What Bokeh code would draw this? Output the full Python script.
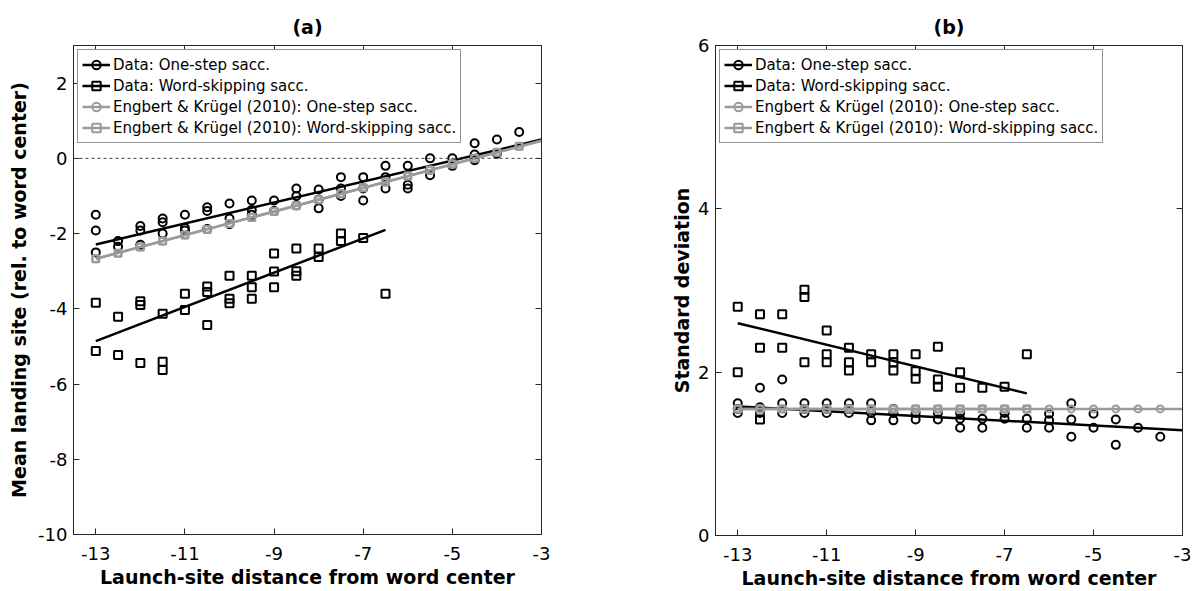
from bokeh.plotting import figure
from bokeh.layouts import row
from bokeh.models import LinearAxis, FixedTicker, Range1d, Span, Legend, LegendItem
from bokeh.embed import file_html
from bokeh.resources import INLINE

FONT = "DejaVu Sans"
BLACK = "#000000"
GRAY = "#9a9a9a"
AXC = "#262626"

x_ticks = [-13, -11, -9, -7, -5, -3]
a_y_ticks = [-10, -8, -6, -4, -2, 0, 2]
b_y_ticks = [0, 2, 4, 6]
titles = ["(a)", "(b)"]
x_label = "Launch-site distance from word center"
a_y_label = "Mean landing site (rel. to word center)"
b_y_label = "Standard deviation"
legend_labels = ["Data: One-step sacc.",
                 "Data: Word-skipping sacc.",
                 "Engbert & Krügel (2010): One-step sacc.",
                 "Engbert & Krügel (2010): Word-skipping sacc."]

# ---------------- panel (a): mean landing site ----------------
a_one_x = [-13, -13, -13, -12.5, -12.5, -12, -12, -12, -11.5, -11.5, -11.5,
           -11, -11, -11, -10.5, -10.5, -10.5, -10, -10, -10, -9.5, -9.5, -9.5,
           -9, -9, -8.5, -8.5, -8.5, -8, -8, -8, -7.5, -7.5, -7.5, -7, -7, -7,
           -6.5, -6.5, -6.5, -6, -6, -6, -5.5, -5.5, -5.5, -5, -5, -4.5, -4.5,
           -4.5, -4, -4, -3.5]
a_one_y = [-1.5, -1.92, -2.5, -2.2, -2.35, -1.8, -1.92, -2.3, -1.6, -1.7, -2.0,
           -1.5, -1.85, -1.92, -1.3, -1.4, -1.88, -1.2, -1.6, -1.75, -1.12, -1.37, -1.5,
           -1.12, -1.4, -0.8, -1.0, -1.25, -0.83, -1.1, -1.33, -0.5, -0.8, -1.0, -0.5, -0.8, -1.12,
           -0.2, -0.5, -0.8, -0.2, -0.7, -0.8, 0.0, -0.3, -0.45, 0.0, -0.2, 0.4, 0.1,
           -0.05, 0.5, 0.12, 0.7]

a_skip_x = [-13, -13, -12.5, -12.5, -12, -12, -12, -11.5, -11.5, -11.5, -11, -11,
            -10.5, -10.5, -10.5, -10, -10, -10, -9.5, -9.5, -9.5, -9, -9, -9,
            -8.5, -8.5, -8.5, -8, -8, -7.5, -7.5, -7, -6.5]
a_skip_y = [-3.84, -5.12, -4.21, -5.23, -3.8, -3.9, -5.44, -4.13, -5.41, -5.63, -3.6, -4.03,
            -3.41, -3.55, -4.43, -3.12, -3.73, -3.85, -3.12, -3.43, -3.73, -2.53, -3.01, -3.43,
            -2.4, -3.0, -3.12, -2.4, -2.62, -2.0, -2.2, -2.12, -3.6]

a_model_x = [-13, -12.5, -12, -11.5, -11, -10.5, -10, -9.5, -9, -8.5, -8, -7.5,
             -7, -6.5, -6, -5.5, -5, -4.5, -4, -3.5]
a_model_one_y = [-2.67, -2.52, -2.36, -2.2, -2.04, -1.89, -1.73, -1.57, -1.41, -1.26,
                 -1.1, -0.94, -0.78, -0.63, -0.47, -0.31, -0.15, 0.0, 0.16, 0.32]
a_model_skip_y = [-2.67, -2.52, -2.36, -2.2, -2.04, -1.89, -1.73, -1.57, -1.41, -1.26,
                  -1.1, -0.94, -0.78, -0.63, -0.47, -0.31, -0.15, 0.0, 0.16, 0.32]

# fitted regression lines (end points)
a_fit_one_x = [-13, -3]
a_fit_one_y = [-2.29, 0.5]
a_fit_skip_x = [-13, -6.5]
a_fit_skip_y = [-4.86, -1.9]
a_fit_model_one_x = [-13, -3]
a_fit_model_one_y = [-2.67, 0.47]
a_fit_model_skip_x = [-13, -3]
a_fit_model_skip_y = [-2.67, 0.47]

# ---------------- panel (b): standard deviation ----------------
b_one_x = [-13, -13, -13, -12.5, -12.5, -12.5, -12, -12, -12, -11.5, -11.5, -11.5,
           -11, -11, -11, -10.5, -10.5, -10.5, -10, -10, -10, -9.5, -9.5, -9.5,
           -9, -9, -8.5, -8.5, -8, -8, -8, -7.5, -7.5, -7, -7, -6.5, -6.5,
           -6, -6, -6, -5.5, -5.5, -5.5, -5, -5, -4.5, -4.5, -4, -3.5]
b_one_y = [1.62, 1.55, 1.5, 1.81, 1.57, 1.5, 1.91, 1.62, 1.5, 1.62, 1.55, 1.5,
           1.62, 1.55, 1.5, 1.62, 1.55, 1.5, 1.62, 1.5, 1.41, 1.55, 1.5, 1.41,
           1.5, 1.42, 1.5, 1.42, 1.5, 1.43, 1.32, 1.43, 1.32, 1.5, 1.43, 1.43, 1.32,
           1.49, 1.41, 1.32, 1.62, 1.42, 1.21, 1.49, 1.32, 1.42, 1.11, 1.32, 1.21]

b_skip_x = [-13, -13, -12.5, -12.5, -12.5, -12, -12, -11.5, -11.5, -11.5,
            -11, -11, -11, -10.5, -10.5, -10.5, -10, -10, -9.5, -9.5, -9.5,
            -9, -9, -9, -8.5, -8.5, -8.5, -8, -8, -7.5, -7, -6.5]
b_skip_y = [2.8, 2.0, 2.71, 2.3, 1.42, 2.71, 2.3, 3.01, 2.92, 2.12,
            2.51, 2.22, 2.12, 2.3, 2.12, 2.02, 2.22, 2.12, 2.22, 2.12, 2.02,
            2.22, 2.01, 1.92, 2.31, 1.91, 1.82, 2.0, 1.81, 1.81, 1.82, 2.22]

b_model_one_x = [-13, -12.5, -12, -11.5, -11, -10.5, -10, -9.5, -9, -8.5, -8, -7.5,
                 -7, -6.5, -6, -5.5, -5, -4.5, -4, -3.5]
b_model_one_y = [1.55, 1.55, 1.55, 1.55, 1.55, 1.55, 1.55, 1.55, 1.55, 1.55, 1.55,
                 1.55, 1.55, 1.55, 1.55, 1.55, 1.55, 1.55, 1.55, 1.55]
b_model_skip_x = [-13, -12.5, -12, -11.5, -11, -10.5, -10, -9.5, -9, -8.5, -8, -7.5,
                  -7, -6.5]
b_model_skip_y = [1.55, 1.55, 1.55, 1.55, 1.55, 1.55, 1.55, 1.55, 1.55, 1.55, 1.55,
                  1.55, 1.55, 1.55]

b_fit_one_x = [-13, -3]
b_fit_one_y = [1.58, 1.29]
b_fit_skip_x = [-13, -6.5]
b_fit_skip_y = [2.6, 1.74]
b_fit_model_one_x = [-13, -3]
b_fit_model_one_y = [1.55, 1.55]
b_fit_model_skip_x = [-13, -6.5]
b_fit_model_skip_y = [1.55, 1.55]


def style_axis(ax, ticks, show_labels=True):
    ax.ticker = FixedTicker(ticks=ticks)
    ax.minor_tick_line_color = None
    ax.major_tick_in = 6
    ax.major_tick_out = 0
    ax.axis_line_color = AXC
    ax.major_tick_line_color = AXC
    ax.major_label_text_font = FONT
    ax.major_label_text_color = "#000000"
    ax.major_label_overrides = {t: str(t) for t in ticks}
    if show_labels:
        ax.major_label_text_font_size = "18px"
    else:
        ax.major_label_text_font_size = "1px"
        ax.major_label_text_color = None


def make_panel(title, y_range, y_ticks, y_label, series, fits, zero_line,
               width, height, left, right, top, bottom, ylab_standoff):
    p = figure(width=width, height=height, output_backend="svg", toolbar_location=None,
               x_range=Range1d(-13.5, -3), y_range=Range1d(*y_range),
               frame_width=width - left - right, frame_height=height - top - bottom,
               min_border_left=left, min_border_right=right,
               min_border_top=top, min_border_bottom=bottom)
    p.grid.visible = False
    p.outline_line_color = AXC
    p.outline_line_width = 1
    p.background_fill_color = "white"
    p.border_fill_color = "white"

    p.title.text = title
    p.title.align = "center"
    p.title.text_font = FONT
    p.title.text_font_style = "bold"
    p.title.text_font_size = "19px"
    p.title.text_color = "#000000"
    p.title.standoff = 16

    style_axis(p.xaxis[0], x_ticks)
    style_axis(p.yaxis[0], y_ticks)
    p.xaxis.major_label_standoff = 12
    p.yaxis.major_label_standoff = 6
    p.xaxis.axis_label = x_label
    p.yaxis.axis_label = y_label
    for ax in (p.xaxis[0], p.yaxis[0]):
        ax.axis_label_text_font = FONT
        ax.axis_label_text_font_style = "bold"
        ax.axis_label_text_font_size = "19px"
        ax.axis_label_text_color = "#000000"
    p.xaxis.axis_label_standoff = 3
    p.yaxis.axis_label_standoff = ylab_standoff

    top_ax = LinearAxis()
    style_axis(top_ax, x_ticks, show_labels=False)
    p.add_layout(top_ax, "above")
    right_ax = LinearAxis()
    style_axis(right_ax, y_ticks, show_labels=False)
    p.add_layout(right_ax, "right")

    if zero_line:
        p.add_layout(Span(location=0, dimension="width", line_color="#444444",
                          line_width=1, line_dash="3 3"))

    rend = []
    for (sx, sy, marker, color, size, lw), (fx, fy, flw) in zip(series, fits):
        lr = p.line(fx, fy, line_color=color, line_width=flw)
        sr = p.scatter(sx, sy, marker=marker, size=size, line_color=color,
                       line_width=lw, fill_color=None)
        rend.append((lr, sr))
    items = [LegendItem(label=label, renderers=[lr, sr])
             for label, (lr, sr) in zip(legend_labels, rend)]
    leg = Legend(items=items, location="top_left", margin=4, padding=4, spacing=0,
                 glyph_width=28, glyph_height=21, label_standoff=3,
                 label_text_font=FONT, label_text_font_size="15px",
                 label_text_color="#000000",
                 label_height=21, border_line_color=AXC, border_line_width=1,
                 background_fill_color="white", background_fill_alpha=1.0)
    p.add_layout(leg)
    return p


a_series = [(a_one_x, a_one_y, "circle", BLACK, 8, 2),
            (a_skip_x, a_skip_y, "square", BLACK, 8, 2),
            (a_model_x, a_model_one_y, "circle", GRAY, 7, 2),
            (a_model_x, a_model_skip_y, "square", GRAY, 7, 2)]
a_fits = [(a_fit_one_x, a_fit_one_y, 2.5), (a_fit_skip_x, a_fit_skip_y, 2.5),
          (a_fit_model_one_x, a_fit_model_one_y, 2.5),
          (a_fit_model_skip_x, a_fit_model_skip_y, 2.5)]
b_series = [(b_one_x, b_one_y, "circle", BLACK, 8, 2),
            (b_skip_x, b_skip_y, "square", BLACK, 8, 2),
            (b_model_one_x, b_model_one_y, "circle", GRAY, 7, 2),
            (b_model_skip_x, b_model_skip_y, "square", GRAY, 7, 2)]
b_fits = [(b_fit_one_x, b_fit_one_y, 2.5), (b_fit_skip_x, b_fit_skip_y, 2.5),
          (b_fit_model_one_x, b_fit_model_one_y, 2.5),
          (b_fit_model_skip_x, b_fit_model_skip_y, 2.5)]

p1 = make_panel(titles[0], (-10, 3), a_y_ticks, a_y_label, a_series, a_fits, True,
                600, 591, 73, 59, 44, 58, 5)
p2 = make_panel(titles[1], (0, 6), b_y_ticks, b_y_label, b_series, b_fits, False,
                603, 591, 115, 21, 45, 56, 2)

layout = row(p1, p2)
open("out.html", "w").write(file_html(layout, INLINE))
